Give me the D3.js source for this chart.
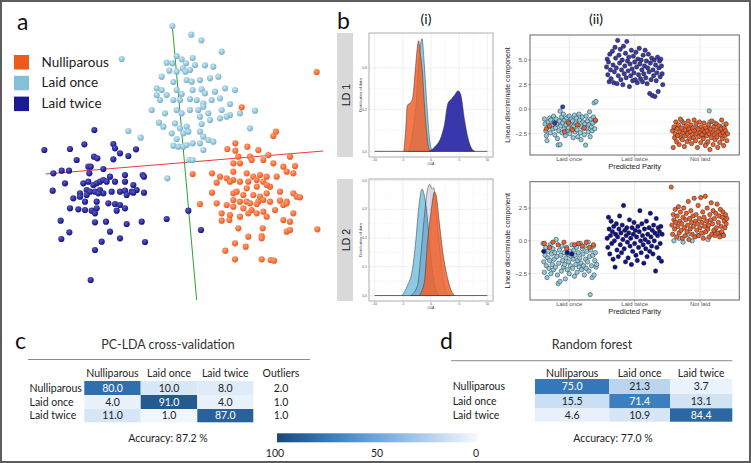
<!DOCTYPE html>
<html>
<head>
<meta charset="utf-8">
<script src="https://cdn.jsdelivr.net/npm/d3@7"></script>
<style>
body { margin: 0; background: #fff; }
svg { display: block; }
</style>
</head>
<body>
<svg id="fig"></svg>
<script>
//////////// Data

var classNames = ["Nulliparous", "Laid once", "Laid twice"];
var predictedParity = ["Laid once", "Laid twice", "Not laid"];

// (a) samples projected on the two discriminant axes (projection units)
var pcaOnce = [[517,78],[574,104],[604,121],[665,155],[365,177],[500,188],[517,190],[530,168],[545,178],[578,174],[558,190],[548,205],[556,215],[585,195],[615,196],[640,200],[570,210],[530,215],[485,230],[508,212],[520,246],[560,240],[575,245],[600,240],[630,235],[655,230],[470,265],[485,270],[500,285],[530,270],[545,282],[578,270],[605,268],[615,280],[645,275],[675,265],[705,270],[480,300],[540,300],[570,297],[590,300],[610,310],[635,300],[660,295],[690,312],[455,330],[495,340],[530,330],[545,340],[570,330],[595,330],[610,320],[625,340],[665,330],[690,345],[720,340],[765,332],[477,368],[490,380],[525,370],[540,385],[560,380],[600,350],[605,372],[630,360],[660,355],[680,350],[750,385],[385,393],[422,413],[515,400],[530,417],[550,400],[565,395],[600,395],[610,410],[625,420],[640,425],[600,430],[520,437],[535,440],[550,440],[560,435],[578,430],[610,450],[568,480],[578,480],[502,535],[470,285],[520,300]];
var pcaNulli = [[950,216],[725,322],[828,395],[820,408],[706,430],[682,447],[706,452],[742,440],[775,450],[805,465],[870,470],[715,470],[750,470],[700,490],[720,490],[755,480],[790,480],[820,490],[850,500],[885,498],[578,522],[636,520],[660,530],[680,535],[700,515],[700,540],[740,520],[760,530],[780,525],[800,530],[830,530],[860,515],[880,520],[650,548],[690,545],[720,545],[745,545],[770,540],[790,545],[810,560],[740,565],[770,560],[800,555],[700,580],[710,575],[730,585],[760,585],[780,590],[800,580],[840,575],[880,580],[890,590],[900,592],[636,578],[700,600],[720,605],[740,605],[750,610],[775,605],[790,600],[810,605],[840,602],[860,605],[650,610],[680,615],[700,620],[730,625],[755,630],[770,612],[825,630],[850,615],[880,640],[860,610],[665,640],[690,645],[720,650],[745,640],[770,640],[790,635],[800,650],[850,660],[870,665],[665,662],[688,660],[715,685],[788,685],[745,710],[785,708],[785,715],[860,695],[870,690],[952,688],[676,752],[705,730],[737,740],[705,778],[785,778],[812,780],[822,782],[600,612]];
var pcaTwice = [[283,390],[133,450],[210,447],[253,433],[340,432],[345,445],[408,448],[360,460],[385,468],[230,480],[282,470],[292,475],[265,500],[272,500],[310,507],[340,478],[160,520],[185,512],[207,512],[268,520],[330,530],[375,525],[428,525],[432,530],[195,550],[250,550],[265,545],[280,555],[290,550],[300,545],[310,540],[320,545],[345,545],[375,545],[400,555],[158,572],[240,580],[260,570],[270,575],[285,575],[300,570],[310,580],[335,575],[360,575],[375,572],[395,575],[410,570],[432,578],[220,595],[240,590],[260,585],[295,580],[380,585],[400,578],[255,605],[290,605],[325,610],[345,612],[360,615],[375,625],[210,625],[235,628],[255,630],[275,632],[290,625],[350,632],[285,640],[182,662],[285,667],[318,665],[380,672],[425,665],[500,657],[208,697],[330,695],[603,690],[565,632],[184,717],[305,725],[360,715],[435,726],[285,750],[272,840]];
var pcaAxis1 = [[137,522],[970,453]];
var pcaAxis2 = [[517,78],[590,900]];

// (b i) density of LD scores per true class: [score, density]
var ld1DensOnce = [[-4.0,0],[-3.3,0.08],[-2.7,0.21],[-2.1,0.45],[-1.6,0.54],[-1.2,0.42],[-0.7,0.21],[-0.3,0.07],[0.1,0.01],[0.6,0]];
var ld1DensTwice = [[-0.4,0],[0.6,0.02],[1.8,0.07],[2.4,0.13],[3.0,0.23],[3.6,0.25],[4.2,0.27],[4.8,0.29],[5.3,0.27],[5.9,0.16],[6.6,0.06],[7.3,0.01],[7.8,0]];
var ld1DensNulli = [[-4.8,0],[-4.5,0.1],[-4.2,0.22],[-3.8,0.23],[-3.3,0.25],[-3.0,0.32],[-2.6,0.45],[-2.2,0.53],[-1.9,0.47],[-1.5,0.37],[-1.2,0.24],[-0.9,0.13],[-0.5,0.03],[-0.1,0]];
var ld2DensOnce = [[-5.1,0],[-4.2,0.034],[-3.3,0.09],[-2.7,0.19],[-2.1,0.32],[-1.6,0.37],[-1.2,0.35],[-0.7,0.28],[-0.3,0.19],[0.3,0.08],[0.9,0.02],[1.5,0]];
var ld2DensTwice = [[-3.6,0],[-2.4,0.034],[-1.8,0.14],[-1.2,0.27],[-0.6,0.37],[-0.2,0.386],[0.2,0.37],[0.5,0.375],[0.9,0.29],[1.5,0.17],[2.1,0.056],[2.7,0.01],[3.3,0]];
var ld2DensNulli = [[-2.1,0],[-1.2,0.045],[-0.6,0.19],[0.0,0.29],[0.6,0.36],[0.9,0.35],[1.5,0.25],[2.1,0.15],[3.0,0.056],[3.6,0.017],[4.2,0]];

// (b ii) [predicted class position + jitter, LD score], split by true class
var ld1Once = [[0.62,-1.0],[0.63,-1.5],[0.64,-2.2],[0.65,-2.7],[0.66,-3.2],[0.68,-1.3],[0.69,-1.8],[0.70,-0.9],[0.71,-2.4],[0.72,-1.1],[0.74,-1.6],[0.75,-2.0],[0.76,-0.7],[0.77,-1.3],[0.78,-2.6],[0.79,-1.9],[0.80,-1.0],[0.81,-1.5],[0.82,-3.0],[0.83,-3.65],[0.84,-2.2],[0.85,-1.2],[0.86,-3.6],[0.86,-0.2],[0.87,-1.7],[0.88,-0.8],[0.89,-2.4],[0.90,-1.4],[0.91,-0.5],[0.92,-2.0],[0.93,-1.1],[0.94,-2.7],[0.95,-1.6],[0.96,-0.9],[0.97,-2.2],[0.98,-1.3],[0.99,-1.9],[1.00,-0.7],[1.01,-2.5],[1.02,-1.5],[1.03,-1.0],[1.04,-2.0],[1.05,-1.2],[1.06,-2.9],[1.07,-1.7],[1.08,-0.6],[1.09,-2.3],[1.10,-1.4],[1.11,-0.9],[1.12,-2.1],[1.13,-2.8],[1.14,-1.6],[1.15,-0.5],[1.16,-1.1],[1.17,-2.4],[1.18,-3.1],[1.19,-1.8],[1.20,-0.8],[1.21,-1.3],[1.22,-2.0],[1.23,-2.6],[1.24,-1.5],[1.25,-3.65],[1.26,-0.7],[1.27,-1.9],[1.28,-1.2],[1.29,-2.3],[1.30,-1.6],[1.31,-0.27],[1.32,-2.8],[1.33,-1.0],[1.34,-1.8],[1.35,-2.2],[1.36,-1.4],[1.37,-0.8],[1.38,0.64],[1.39,-2.0],[1.41,0.78],[1.40,-1.2],
  [2.62,-1.9],[2.72,-1.2],[2.80,-2.3],[2.95,-1.9],[3.05,-2.6],[3.14,-0.17],[3.15,-1.3],[3.22,-1.4],[3.30,-2.1],[3.36,-1.6],[3.10,-3.5],[2.70,-2.6]];
var ld1Nulli = [[0.65,-2.0],[0.70,-1.7],[0.99,-1.4],[1.05,-2.1],[1.12,-1.6],[1.23,-1.9],[1.40,-1.1],[0.93,-2.3],
  [2.58,-2.2],[2.59,-3.9],[2.60,-1.8],[2.61,-2.9],[2.62,-2.5],[2.63,-1.3],[2.64,-3.3],[2.65,-2.0],[2.66,-2.7],[2.67,-1.6],[2.68,-3.6],[2.69,-2.3],[2.70,-1.0],[2.71,-2.9],[2.72,-1.9],[2.73,-3.1],[2.74,-2.4],[2.75,-1.4],[2.76,-3.8],[2.77,-2.1],[2.78,-2.7],[2.79,-1.7],[2.80,-3.3],[2.81,-2.5],[2.82,-1.2],[2.83,-2.0],[2.84,-3.0],[2.85,-2.3],[2.86,-1.6],[2.87,-3.5],[2.88,-2.6],[2.89,-1.9],[2.90,-2.9],[2.91,-1.1],[2.92,-2.2],[2.93,-3.2],[2.94,-1.5],[2.95,-2.5],[2.96,-3.9],[2.97,-2.0],[2.98,-2.8],[2.99,-1.3],[3.00,-2.4],[3.01,-3.4],[3.02,-1.8],[3.03,-2.6],[3.04,-2.1],[3.05,-3.0],[3.06,-1.4],[3.07,-2.3],[3.08,-3.7],[3.09,-1.9],[3.10,-2.7],[3.11,-2.2],[3.12,-3.3],[3.13,-1.6],[3.14,-2.5],[3.15,-4.1],[3.16,-2.0],[3.17,-2.9],[3.18,-1.2],[3.19,-2.4],[3.20,-3.6],[3.21,-1.8],[3.22,-2.6],[3.23,-3.1],[3.24,-2.1],[3.25,-1.5],[3.26,-2.8],[3.27,-3.9],[3.28,-2.3],[3.29,-1.7],[3.30,-3.4],[3.31,-2.6],[3.32,-2.0],[3.33,-1.1],[3.34,-3.0],[3.35,-2.4],[3.36,-3.7],[3.37,-1.9],[3.38,-2.7],[3.39,-2.2],[3.40,-1.5],[3.41,-3.2],[3.42,-2.5]];
var ld1Twice = [[0.90,0.24],[0.78,-1.4],
  [1.57,4.3],[1.58,5.1],[1.59,3.5],[1.60,4.8],[1.61,2.8],[1.62,5.6],[1.63,4.0],[1.64,3.1],[1.66,5.9],[1.67,4.5],[1.68,2.7],[1.69,3.8],[1.70,6.3],[1.71,5.2],[1.72,4.2],[1.73,2.6],[1.74,7.0],[1.75,3.4],[1.76,5.5],[1.77,4.7],[1.78,6.1],[1.79,3.0],[1.80,4.0],[1.81,5.0],[1.82,2.5],[1.83,6.4],[1.84,3.6],[1.85,4.4],[1.86,5.7],[1.87,3.2],[1.88,6.9],[1.89,4.9],[1.90,3.9],[1.91,5.3],[1.92,2.3],[1.93,4.6],[1.94,3.4],[1.95,6.0],[1.96,4.1],[1.97,2.9],[1.98,5.4],[1.99,3.7],[2.00,4.8],[2.01,3.0],[2.02,5.8],[2.03,4.3],[2.04,2.7],[2.05,5.1],[2.06,3.5],[2.07,6.2],[2.08,4.6],[2.09,3.1],[2.10,5.0],[2.11,4.0],[2.12,2.8],[2.13,5.5],[2.14,3.6],[2.15,4.4],[2.16,6.0],[2.17,3.2],[2.18,4.9],[2.19,2.6],[2.20,4.2],[2.21,5.6],[2.22,3.8],[2.23,1.6],[2.24,4.7],[2.25,3.0],[2.26,5.2],[2.27,1.4],[2.28,4.0],[2.29,3.4],[2.30,5.0],[2.31,1.3],[2.32,4.5],[2.33,2.9],[2.34,3.7],[2.35,5.3],[2.36,1.8],[2.37,4.2],[2.38,4.9],[2.39,3.3],[2.40,5.1],[2.41,4.4],[2.42,3.6],[2.43,2.5]];

var ld2Once = [[0.60,-0.2],[0.61,-1.6],[0.62,-2.4],[0.63,-1.1],[0.64,-0.5],[0.65,-1.9],[0.66,-2.8],[0.67,-1.3],[0.68,-0.8],[0.69,-2.1],[0.70,-1.5],[0.71,-0.3],[0.72,-2.5],[0.73,-1.0],[0.74,-1.8],[0.75,-0.6],[0.76,-2.2],[0.77,-1.4],[0.78,-0.9],[0.79,-2.0],[0.80,0.1],[0.81,-1.2],[0.82,-2.6],[0.83,-3.25],[0.84,-1.7],[0.85,-0.7],[0.86,-3.1],[0.87,-1.1],[0.88,-2.3],[0.89,-0.4],[0.90,-1.5],[0.91,-2.0],[0.92,-0.9],[0.93,-1.8],[0.94,-2.9],[0.95,-1.3],[0.96,-0.5],[0.97,-2.2],[0.98,-1.0],[0.99,-1.6],[1.00,-2.5],[1.01,-0.8],[1.02,-1.9],[1.03,-1.2],[1.04,-0.3],[1.05,-2.1],[1.06,-1.4],[1.07,-0.7],[1.08,-2.7],[1.09,-1.1],[1.10,-1.8],[1.11,-0.5],[1.12,-2.4],[1.13,-1.5],[1.14,-0.9],[1.15,-2.0],[1.16,-1.3],[1.17,-0.2],[1.18,-1.7],[1.19,-2.2],[1.20,-0.6],[1.21,-1.0],[1.22,-1.9],[1.23,-2.6],[1.24,-0.4],[1.25,-1.4],[1.26,-2.1],[1.27,-0.8],[1.28,-1.6],[1.29,-0.1],[1.30,-2.3],[1.31,-1.2],[1.32,-4.1],[1.33,-0.7],[1.34,-1.9],[1.35,-2.8],[1.36,-1.1],[1.37,-0.4],[1.38,-2.6],[1.39,-1.5],[1.40,-0.9],[1.41,-2.0],[1.42,-1.8],
  [2.60,0.0],[2.68,0.2],[2.74,-0.1],[2.82,0.5],[2.88,0.0],[2.96,0.4],[3.05,0.6],[3.12,0.1],[3.22,0.8],[3.30,0.6],[3.35,0.5]];
var ld2Nulli = [[0.62,-0.2],[0.70,-0.5],[0.75,-0.1],[0.83,-0.3],[0.92,-0.1],[0.96,-0.6],[1.08,-0.3],[1.14,-0.2],[1.20,-0.4],[1.26,-0.1],[1.31,-0.5],[1.37,-0.3],
  [2.56,4.1],[2.57,1.2],[2.58,0.5],[2.59,2.0],[2.60,1.6],[2.61,0.9],[2.62,2.4],[2.63,1.4],[2.64,0.3],[2.65,1.9],[2.66,1.1],[2.67,2.6],[2.68,0.6],[2.69,1.5],[2.70,2.2],[2.71,0.8],[2.72,1.3],[2.73,0.2],[2.74,1.8],[2.75,2.5],[2.76,1.0],[2.77,0.4],[2.78,1.6],[2.79,2.1],[2.80,0.7],[2.81,1.2],[2.82,3.0],[2.83,0.1],[2.84,1.7],[2.85,0.9],[2.86,2.3],[2.87,1.4],[2.88,0.5],[2.89,1.9],[2.90,1.1],[2.91,3.25],[2.92,0.3],[2.93,1.5],[2.94,2.0],[2.95,0.8],[2.96,1.3],[2.97,2.7],[2.98,0.4],[2.99,1.7],[3.00,1.0],[3.01,3.3],[3.02,0.6],[3.03,1.4],[3.04,2.2],[3.05,0.2],[3.06,1.8],[3.07,1.1],[3.08,3.4],[3.09,0.7],[3.10,1.5],[3.11,2.5],[3.12,0.9],[3.13,1.2],[3.14,0.3],[3.15,2.0],[3.16,1.6],[3.17,2.9],[3.18,0.5],[3.19,1.3],[3.20,2.3],[3.21,0.8],[3.22,1.7],[3.23,0.4],[3.24,2.1],[3.25,1.0],[3.26,2.8],[3.27,0.6],[3.28,1.4],[3.29,1.9],[3.30,0.3],[3.31,2.4],[3.32,1.1],[3.33,0.7],[3.34,1.8],[3.35,2.2],[3.36,0.4],[3.37,1.5],[3.38,1.0],[3.39,2.0],[3.40,1.3],[3.41,1.7]];
var ld2Twice = [[0.61,-0.8],[1.04,-1.0],[0.97,-0.9],
  [1.58,0.2],[1.59,-0.5],[1.60,1.8],[1.61,0.9],[1.62,-1.0],[1.63,0.4],[1.64,1.5],[1.65,-0.2],[1.66,0.7],[1.67,-1.4],[1.68,1.1],[1.69,0.0],[1.70,-2.0],[1.71,0.5],[1.72,1.3],[1.73,-0.7],[1.74,0.3],[1.75,-1.2],[1.76,0.9],[1.77,1.9],[1.78,-0.3],[1.79,0.6],[1.80,-0.9],[1.81,1.2],[1.82,0.1],[1.83,2.7],[1.84,-0.6],[1.85,0.8],[1.86,-1.6],[1.87,0.4],[1.88,1.0],[1.89,-0.1],[1.90,-1.3],[1.91,0.6],[1.92,1.6],[1.93,-0.4],[1.94,0.2],[1.95,-1.8],[1.96,1.0],[1.97,-0.8],[1.98,0.5],[1.99,1.4],[2.00,-0.2],[2.01,0.8],[2.02,-1.1],[2.03,0.3],[2.04,-1.5],[2.05,1.1],[2.06,-0.5],[2.07,0.7],[2.08,2.3],[2.09,0.0],[2.10,-0.9],[2.11,1.3],[2.12,0.4],[2.13,-0.3],[2.14,-1.7],[2.15,0.9],[2.16,0.1],[2.17,-0.6],[2.18,1.5],[2.19,-1.2],[2.20,0.5],[2.21,-0.1],[2.22,1.0],[2.23,-0.8],[2.24,2.1],[2.25,0.3],[2.26,-0.4],[2.27,0.8],[2.28,-1.0],[2.29,1.2],[2.30,0.0],[2.31,0.6],[2.32,-2.3],[2.33,1.7],[2.34,-0.5],[2.35,0.4],[2.36,1.0],[2.37,-1.3],[2.38,0.7],[2.39,-0.2],[2.40,1.1],[2.41,-1.55],[2.42,0.5]];

// (c) PC-LDA cross-validation, % by true class (rows) and predicted class (columns)
var ldaMatrix = [[80.0, 10.0, 8.0], [4.0, 91.0, 4.0], [11.0, 1.0, 87.0]];
var ldaOutliers = [2.0, 1.0, 1.0];
var ldaAccuracy = 87.2;

// (d) Random forest
var rfMatrix = [[75.0, 21.3, 3.7], [15.5, 71.4, 13.1], [4.6, 10.9, 84.4]];
var rfAccuracy = 77.0;

var colourTicks = [100, 50, 0];


//////////// Setup

var WIDTH = 751, HEIGHT = 463;
var GG_FONT = "'Liberation Sans', Arial, sans-serif";

var svg = d3.select("#fig")
	.attr("width", WIDTH)
	.attr("height", HEIGHT)
	.style("font-family", "Lato, sans-serif");

svg.append("rect")
	.attr("x", 1).attr("y", 1)
	.attr("width", WIDTH - 2).attr("height", HEIGHT - 2)
	.attr("fill", "#fff")
	.attr("stroke", "#5c5c5c")
	.attr("stroke-width", 2);

function panelLetter(txt, x, y) {
	svg.append("text").attr("x", x).attr("y", y)
		.attr("font-size", 23).attr("fill", "#111").text(txt);
}


//////////// (a) projection scatter

var xA = d3.scaleLinear().domain([0, 990]).range([0, 330]),
	yA = d3.scaleLinear().domain([0, 900]).range([0, 300]);

var defs = svg.append("defs");
[["ballNulli", "#ffa47a", "#ee5519"], ["ballOnce", "#cde8f3", "#72b0cc"], ["ballTwice", "#5b5bc8", "#10107f"]]
	.forEach(function(b) {
		var rg = defs.append("radialGradient").attr("id", b[0])
			.attr("cx", "40%").attr("cy", "35%").attr("r", "65%");
		rg.append("stop").attr("offset", "0%").attr("stop-color", b[1]);
		rg.append("stop").attr("offset", "100%").attr("stop-color", b[2]);
	});

var axisLine = d3.line().x(function(d) { return xA(d[0]); }).y(function(d) { return yA(d[1]); });
svg.append("path").attr("d", axisLine(pcaAxis1)).attr("stroke", "#ec3a3a").attr("stroke-width", 1).attr("fill", "none");
svg.append("path").attr("d", axisLine(pcaAxis2)).attr("stroke", "#2ea12e").attr("stroke-width", 1).attr("fill", "none");

[[pcaTwice, "ballTwice"], [pcaOnce, "ballOnce"], [pcaNulli, "ballNulli"]].forEach(function(s) {
	svg.append("g").selectAll("circle")
		.data(s[0])
	  .enter().append("circle")
		.attr("cx", function(d) { return xA(d[0]); })
		.attr("cy", function(d) { return yA(d[1]); })
		.attr("r", 3.1)
		.attr("fill", "url(#" + s[1] + ")");
});

panelLetter("a", 17, 30);

// legend
var legendColours = ["#f0591c", "#86c0d8", "#1a1a94"];
var legend = svg.append("g").selectAll("g")
	.data(classNames)
  .enter().append("g")
	.attr("transform", function(d, i) { return "translate(14," + (55 + i * 20.8) + ")"; });
legend.append("rect")
	.attr("width", 15).attr("height", 14.5)
	.attr("fill", function(d, i) { return legendColours[i]; });
legend.append("text")
	.attr("x", 27.5).attr("y", 11.5)
	.attr("font-size", 13.5).attr("fill", "#222")
	.text(function(d) { return d; });


//////////// (b i) density panels

panelLetter("b", 337, 29);
svg.append("text").attr("x", 426).attr("y", 24).attr("text-anchor", "middle")
	.attr("font-size", 14).attr("fill", "#111").text("(i)");
svg.append("text").attr("x", 596).attr("y", 24).attr("text-anchor", "middle")
	.attr("font-size", 14).attr("fill", "#111").text("(ii)");

function densityPanel(cfg) {
	var x = d3.scaleLinear().domain([-11, 11]).range([369, 493]),
		y = d3.scaleLinear().domain(cfg.yDomain).range([cfg.bottom, cfg.top]);
	var g = svg.append("g");

	// facet strip
	g.append("rect")
		.attr("x", 337).attr("y", cfg.top)
		.attr("width", 16).attr("height", cfg.bottom - cfg.top)
		.attr("fill", "#d9d9d9");
	g.append("text")
		.attr("transform", "translate(349.5," + ((cfg.top + cfg.bottom) / 2) + ") rotate(-90)")
		.attr("text-anchor", "middle")
		.attr("font-family", GG_FONT).attr("font-size", 10.5).attr("fill", "#1a1a1a")
		.text(cfg.strip);

	// grid
	var yMinor = cfg.yTicks.slice(0, -1).map(function(t, i) { return (t + cfg.yTicks[i + 1]) / 2; });
	g.selectAll("dummy").data([-7.5, -2.5, 2.5, 7.5]).enter().append("line")
		.attr("x1", x).attr("x2", x).attr("y1", cfg.top).attr("y2", cfg.bottom)
		.attr("stroke", "#f3f3f3").attr("stroke-width", 0.4);
	g.selectAll("dummy").data(yMinor).enter().append("line")
		.attr("x1", 369).attr("x2", 493).attr("y1", y).attr("y2", y)
		.attr("stroke", "#f3f3f3").attr("stroke-width", 0.4);
	g.selectAll("dummy").data([-10, -5, 0, 5, 10]).enter().append("line")
		.attr("x1", x).attr("x2", x).attr("y1", cfg.top).attr("y2", cfg.bottom)
		.attr("stroke", "#e6e6e6").attr("stroke-width", 0.6);
	g.selectAll("dummy").data(cfg.yTicks).enter().append("line")
		.attr("x1", 369).attr("x2", 493).attr("y1", y).attr("y2", y)
		.attr("stroke", "#e6e6e6").attr("stroke-width", 0.6);

	// baseline spanning the full score range
	g.append("line")
		.attr("x1", x(-10)).attr("x2", x(10)).attr("y1", y(0)).attr("y2", y(0))
		.attr("stroke", "#555").attr("stroke-width", 0.9);

	var area = d3.area()
		.x(function(d) { return x(d[0]); })
		.y0(y(0))
		.y1(function(d) { return y(d[1]); })
		.curve(d3.curveMonotoneX);
	cfg.curves.forEach(function(c) {
		g.append("path")
			.attr("d", area(c.data))
			.attr("fill", c.fill)
			.attr("fill-opacity", c.opacity)
			.attr("stroke", "#333")
			.attr("stroke-width", 0.5);
	});

	g.append("rect")
		.attr("x", 369).attr("y", cfg.top)
		.attr("width", 124).attr("height", cfg.bottom - cfg.top)
		.attr("fill", "none").attr("stroke", "#9a9a9a").attr("stroke-width", 0.8);

	// tiny axes
	g.selectAll("dummy").data(cfg.yTicks).enter().append("text")
		.attr("x", 367).attr("y", function(d) { return y(d) + 1.2; })
		.attr("text-anchor", "end")
		.attr("font-family", GG_FONT).attr("font-size", 3.5).attr("fill", "#555")
		.text(function(d) { return d3.format(".1f")(d); });
	g.append("text")
		.attr("transform", "translate(362," + ((cfg.top + cfg.bottom) / 2) + ") rotate(-90)")
		.attr("text-anchor", "middle")
		.attr("font-family", GG_FONT).attr("font-size", 4).attr("fill", "#333")
		.text("Distribution of data");
	g.selectAll("dummy").data([-10, -5, 0, 5, 10]).enter().append("text")
		.attr("x", x).attr("y", cfg.bottom + 4)
		.attr("text-anchor", "middle")
		.attr("font-family", GG_FONT).attr("font-size", 3.5).attr("fill", "#555")
		.text(function(d) { return d; });
	g.append("text")
		.attr("x", x(0)).attr("y", cfg.bottom + 7.5)
		.attr("text-anchor", "middle")
		.attr("font-family", GG_FONT).attr("font-size", 3.5).attr("fill", "#333")
		.text("LDA");
}

densityPanel({
	top: 33, bottom: 157, yDomain: [-0.027, 0.567], yTicks: [0, 0.2, 0.4], strip: "LD 1",
	curves: [
		{data: ld1DensOnce, fill: "#8ccbe2", opacity: 1},
		{data: ld1DensTwice, fill: "#3838ac", opacity: 1},
		{data: ld1DensNulli, fill: "#f0622a", opacity: 0.85}
	]
});
densityPanel({
	top: 179, bottom: 301, yDomain: [-0.019, 0.405], yTicks: [0, 0.1, 0.2, 0.3, 0.4], strip: "LD 2",
	curves: [
		{data: ld2DensOnce, fill: "#8ccbe2", opacity: 1},
		{data: ld2DensTwice, fill: "#1a1a8c", opacity: 0.15},
		{data: ld2DensNulli, fill: "#f0622a", opacity: 0.85}
	]
});


//////////// (b ii) LD score by predicted parity

function scatterPanel(cfg) {
	var x = d3.scaleLinear().domain([0.4, 3.6]).range([530, 739.3]),
		y = d3.scaleLinear().domain(cfg.yDomain).range([cfg.bottom, cfg.top]);
	var g = svg.append("g");
	var yMinor = cfg.yTicks.map(function(t) { return t + 1.25; }).concat([cfg.yTicks[0] - 1.25])
		.filter(function(t) { return t > cfg.yDomain[0] && t < cfg.yDomain[1]; });

	g.selectAll("dummy").data(yMinor).enter().append("line")
		.attr("x1", 530).attr("x2", 739.3).attr("y1", y).attr("y2", y)
		.attr("stroke", "#f2f2f2").attr("stroke-width", 0.5);
	g.selectAll("dummy").data(cfg.yTicks).enter().append("line")
		.attr("x1", 530).attr("x2", 739.3).attr("y1", y).attr("y2", y)
		.attr("stroke", "#e3e3e3").attr("stroke-width", 0.7);
	g.selectAll("dummy").data([1, 2, 3]).enter().append("line")
		.attr("x1", x).attr("x2", x).attr("y1", cfg.top).attr("y2", cfg.bottom)
		.attr("stroke", "#e3e3e3").attr("stroke-width", 0.7);

	cfg.series.forEach(function(s) {
		g.append("g").selectAll("circle")
			.data(s.data)
		  .enter().append("circle")
			.attr("cx", function(d) { return x(d[0]); })
			.attr("cy", function(d) { return y(d[1]); })
			.attr("r", 2.2)
			.attr("fill", s.fill)
			.attr("stroke", "#1b1b1b")
			.attr("stroke-width", 0.45);
	});

	g.append("rect")
		.attr("x", 530).attr("y", cfg.top)
		.attr("width", 209.3).attr("height", cfg.bottom - cfg.top)
		.attr("fill", "none").attr("stroke", "#666").attr("stroke-width", 1);

	// axes
	g.selectAll("dummy").data(cfg.yTicks).enter().append("text")
		.attr("x", 527).attr("y", function(d) { return y(d) + 2; })
		.attr("text-anchor", "end")
		.attr("font-family", GG_FONT).attr("font-size", 6).attr("fill", "#555")
		.text(function(d) { return d3.format(".1f")(d); });
	g.selectAll("dummy").data(cfg.yTicks).enter().append("line")
		.attr("x1", 528).attr("x2", 530).attr("y1", y).attr("y2", y)
		.attr("stroke", "#666").attr("stroke-width", 0.5);
	g.selectAll("dummy").data(predictedParity).enter().append("text")
		.attr("x", function(d, i) { return x(i + 1); }).attr("y", cfg.bottom + 6.3)
		.attr("text-anchor", "middle")
		.attr("font-family", GG_FONT).attr("font-size", 6).attr("fill", "#555")
		.text(function(d) { return d; });
	g.selectAll("dummy").data([1, 2, 3]).enter().append("line")
		.attr("x1", x).attr("x2", x).attr("y1", cfg.bottom).attr("y2", cfg.bottom + 2)
		.attr("stroke", "#666").attr("stroke-width", 0.5);
	g.append("text")
		.attr("x", x(2)).attr("y", cfg.bottom + 14)
		.attr("text-anchor", "middle")
		.attr("font-family", GG_FONT).attr("font-size", 7.5).attr("fill", "#222")
		.text("Predicted Parity");
	g.append("text")
		.attr("transform", "translate(510," + ((cfg.top + cfg.bottom) / 2) + ") rotate(-90)")
		.attr("text-anchor", "middle")
		.attr("font-family", GG_FONT).attr("font-size", 7).attr("fill", "#222")
		.text("Linear discriminate component");
}

scatterPanel({
	top: 35, bottom: 155, yDomain: [-4.66, 7.55], yTicks: [-2.5, 0, 2.5, 5],
	series: [
		{data: ld1Once, fill: "#8ecae0"},
		{data: ld1Nulli, fill: "#f0602a"},
		{data: ld1Twice, fill: "#3b3ba8"}
	]
});
scatterPanel({
	top: 181.7, bottom: 300, yDomain: [-4.51, 4.51], yTicks: [-2.5, 0, 2.5],
	series: [
		{data: ld2Once, fill: "#8ecae0"},
		{data: ld2Nulli, fill: "#f0602a"},
		{data: ld2Twice, fill: "#12128a"}
	]
});


//////////// (c), (d) confusion tables

var colour = d3.scaleLinear()
	.domain([0, 50, 75, 100])
	.range(["#f4f8fd", "#6ea6dc", "#3479bb", "#1b4878"]);

function confusionTable(cfg) {
	var g = svg.append("g").attr("font-size", 10.5).attr("fill", "#222");
	var colMid = function(i) { return (cfg.colEdges[i] + cfg.colEdges[i + 1]) / 2; };
	var rowTop = function(i) { return cfg.rowEdges[i]; };
	var rowMid = function(i) { return (cfg.rowEdges[i] + cfg.rowEdges[i + 1]) / 2; };

	g.append("text").attr("x", cfg.titleX).attr("y", cfg.titleY)
		.attr("text-anchor", "middle").attr("font-size", 12.5).attr("fill", "#333")
		.text(cfg.title);
	g.append("line")
		.attr("x1", cfg.rule[0]).attr("x2", cfg.rule[1])
		.attr("y1", cfg.rule[2]).attr("y2", cfg.rule[2])
		.attr("stroke", "#8a8a8a").attr("stroke-width", 1);

	g.selectAll("dummy").data(classNames).enter().append("text")
		.attr("x", function(d, i) { return colMid(i); }).attr("y", 376.5)
		.attr("text-anchor", "middle")
		.text(function(d) { return d; });
	g.selectAll("dummy").data(classNames).enter().append("text")
		.attr("x", cfg.labelX).attr("y", function(d, i) { return rowMid(i) + 3.8; })
		.text(function(d) { return d; });

	var rows = g.selectAll("dummy").data(cfg.matrix).enter().append("g");
	rows.selectAll("rect")
		.data(function(r, i) { return r.map(function(v, j) { return {v: v, i: i, j: j}; }); })
	  .enter().append("rect")
		.attr("x", function(d) { return cfg.colEdges[d.j]; })
		.attr("y", function(d) { return rowTop(d.i); })
		.attr("width", function(d) { return cfg.colEdges[d.j + 1] - cfg.colEdges[d.j]; })
		.attr("height", function(d) { return cfg.rowEdges[d.i + 1] - cfg.rowEdges[d.i]; })
		.attr("fill", function(d) { return colour(d.v); });
	rows.selectAll("text")
		.data(function(r, i) { return r.map(function(v, j) { return {v: v, i: i, j: j}; }); })
	  .enter().append("text")
		.attr("x", function(d) { return colMid(d.j); })
		.attr("y", function(d) { return rowMid(d.i) + 3.8; })
		.attr("text-anchor", "middle")
		.attr("fill", function(d) { return d.v > 60 ? "#fff" : "#222"; })
		.text(function(d) { return d3.format(".1f")(d.v); });

	if (cfg.extra) {
		g.append("text").attr("x", cfg.extraX).attr("y", 376.5)
			.attr("text-anchor", "middle").text(cfg.extraName);
		g.selectAll("dummy").data(cfg.extra).enter().append("text")
			.attr("x", cfg.extraX).attr("y", function(d, i) { return rowMid(i) + 3.8; })
			.attr("text-anchor", "middle")
			.text(function(d) { return d3.format(".1f")(d); });
	}

	g.append("text").attr("x", cfg.accX).attr("y", 442)
		.attr("text-anchor", "middle")
		.text("Accuracy: " + d3.format(".1f")(cfg.accuracy) + " %");
}

panelLetter("c", 15, 349);
confusionTable({
	title: "PC-LDA cross-validation", titleX: 168, titleY: 349,
	rule: [28, 310, 359.5],
	labelX: 29.5,
	colEdges: [84.3, 140.7, 197.3, 253.3],
	rowEdges: [381, 395, 409, 422.3],
	matrix: ldaMatrix,
	extra: ldaOutliers, extraName: "Outliers", extraX: 281,
	accuracy: ldaAccuracy, accX: 168
});

panelLetter("d", 440, 349);
confusionTable({
	title: "Random forest", titleX: 592, titleY: 348.5,
	rule: [451, 732.3, 360.7],
	labelX: 452.7,
	colEdges: [535, 609.3, 670, 732.3],
	rowEdges: [379, 394, 408.3, 421.7],
	matrix: rfMatrix,
	accuracy: rfAccuracy, accX: 613
});

// colour key: 100 on the left, 0 on the right (stops must go in increasing offset)
var xKey = d3.scaleLinear().domain([100, 0]).range([277, 477]);
var grad = defs.append("linearGradient").attr("id", "keyGrad");
d3.range(100, -1, -10).forEach(function(v) {
	grad.append("stop")
		.attr("offset", (100 - v) + "%")
		.attr("stop-color", colour(v));
});
svg.append("rect")
	.attr("x", xKey(100)).attr("y", 433.3)
	.attr("width", xKey(0) - xKey(100)).attr("height", 9)
	.attr("fill", "url(#keyGrad)");
svg.append("g").selectAll("text")
	.data(colourTicks)
  .enter().append("text")
	.attr("x", function(d) { return xKey(d) + (d === 100 ? -2 : d === 0 ? -1 : 0); })
	.attr("y", 457)
	.attr("text-anchor", "middle")
	.attr("font-size", 10.5).attr("fill", "#222")
	.text(function(d) { return d; });
</script>
</body>
</html>
